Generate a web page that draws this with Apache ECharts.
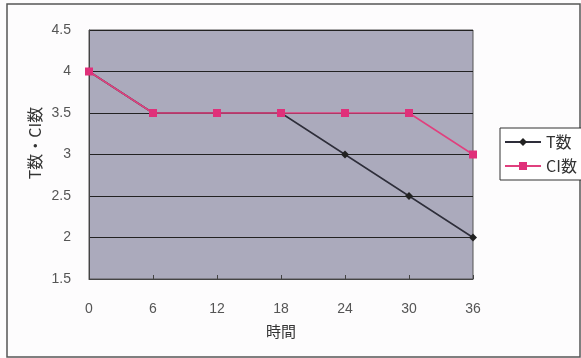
<!DOCTYPE html>
<html>
<head>
<meta charset="utf-8">
<script src="https://cdn.jsdelivr.net/npm/echarts@6/dist/echarts.min.js"></script>
<style>
html,body{margin:0;padding:0;background:#fdfcfd;}
#chart{width:581px;height:358px;}
</style>
</head>
<body>
<div id="chart"></div>
<script>
// Elapsed time (x) and counts for the two series
const hours = [0, 6, 12, 18, 24, 30, 36];
const tCount = [4, 3.5, 3.5, 3.5, 3, 2.5, 2];
const ciCount = [4, 3.5, 3.5, 3.5, 3.5, 3.5, 3];
const yTicks = [1.5, 2, 2.5, 3, 3.5, 4, 4.5];

const chart = echarts.init(document.getElementById('chart'));
const labelFont = { fontFamily: 'Liberation Sans, Arial, sans-serif', fontSize: 14, color: '#555' };
const cjkFont = 'Noto Sans CJK JP, sans-serif';

chart.setOption({
  animation: false,
  backgroundColor: '#fdfcfd',
  graphic: [
    {
      type: 'rect',
      shape: { x: 7, y: 4, width: 573, height: 353 },
      style: { fill: 'none', stroke: '#555', lineWidth: 1.5 }
    },
    {
      // vertical y-axis title, reading bottom to top
      type: 'text',
      x: 35, y: 143,
      rotation: Math.PI / 2,
      style: {
        text: 'T数・CI数',
        fontFamily: cjkFont, fontSize: 16, fill: '#333',
        align: 'center', verticalAlign: 'middle'
      }
    }
  ],
  grid: {
    left: 89, right: 108, top: 30, bottom: 79,
    show: true, backgroundColor: '#abaabc', borderColor: '#555', borderWidth: 1
  },
  legend: {
    orient: 'vertical',
    left: 500, top: 128,
    padding: [6, 5, 6, 4],
    itemGap: 8,
    itemWidth: 36, itemHeight: 10,
    borderColor: '#333', borderWidth: 1, backgroundColor: '#fff',
    textStyle: { fontFamily: cjkFont, fontSize: 16, color: '#333' },
    data: ['T数', 'CI数']
  },
  xAxis: {
    type: 'value', min: 0, max: 36, interval: 6,
    name: '時間', nameLocation: 'middle', nameGap: 45,
    nameTextStyle: { fontFamily: cjkFont, fontSize: 15, color: '#333' },
    axisLine: { lineStyle: { color: '#444' } },
    axisTick: { inside: true, length: 4, lineStyle: { color: '#444' } },
    axisLabel: Object.assign({ margin: 23, formatter: v => hours.includes(v) ? String(v) : '' }, labelFont),
    splitLine: { show: false }
  },
  yAxis: {
    type: 'value', min: 1.5, max: 4.5, interval: 0.5,
    axisLine: { show: true, lineStyle: { color: '#444' } },
    axisTick: { show: false },
    axisLabel: Object.assign({ margin: 18, formatter: v => yTicks.includes(v) ? String(v) : '' }, labelFont),
    splitLine: { lineStyle: { color: '#222', width: 1 } }
  },
  series: [
    {
      name: 'T数', type: 'line',
      data: hours.map((h, i) => [h, tCount[i]]),
      symbol: 'diamond', symbolSize: 8,
      lineStyle: { color: '#2e2e3a', width: 1.5 },
      itemStyle: { color: '#222' }
    },
    {
      name: 'CI数', type: 'line',
      data: hours.map((h, i) => [h, ciCount[i]]),
      symbol: 'rect', symbolSize: 8,
      lineStyle: { color: '#e0407e', width: 1.5 },
      itemStyle: { color: '#e0307a' }
    }
  ]
});
</script>
</body>
</html>
